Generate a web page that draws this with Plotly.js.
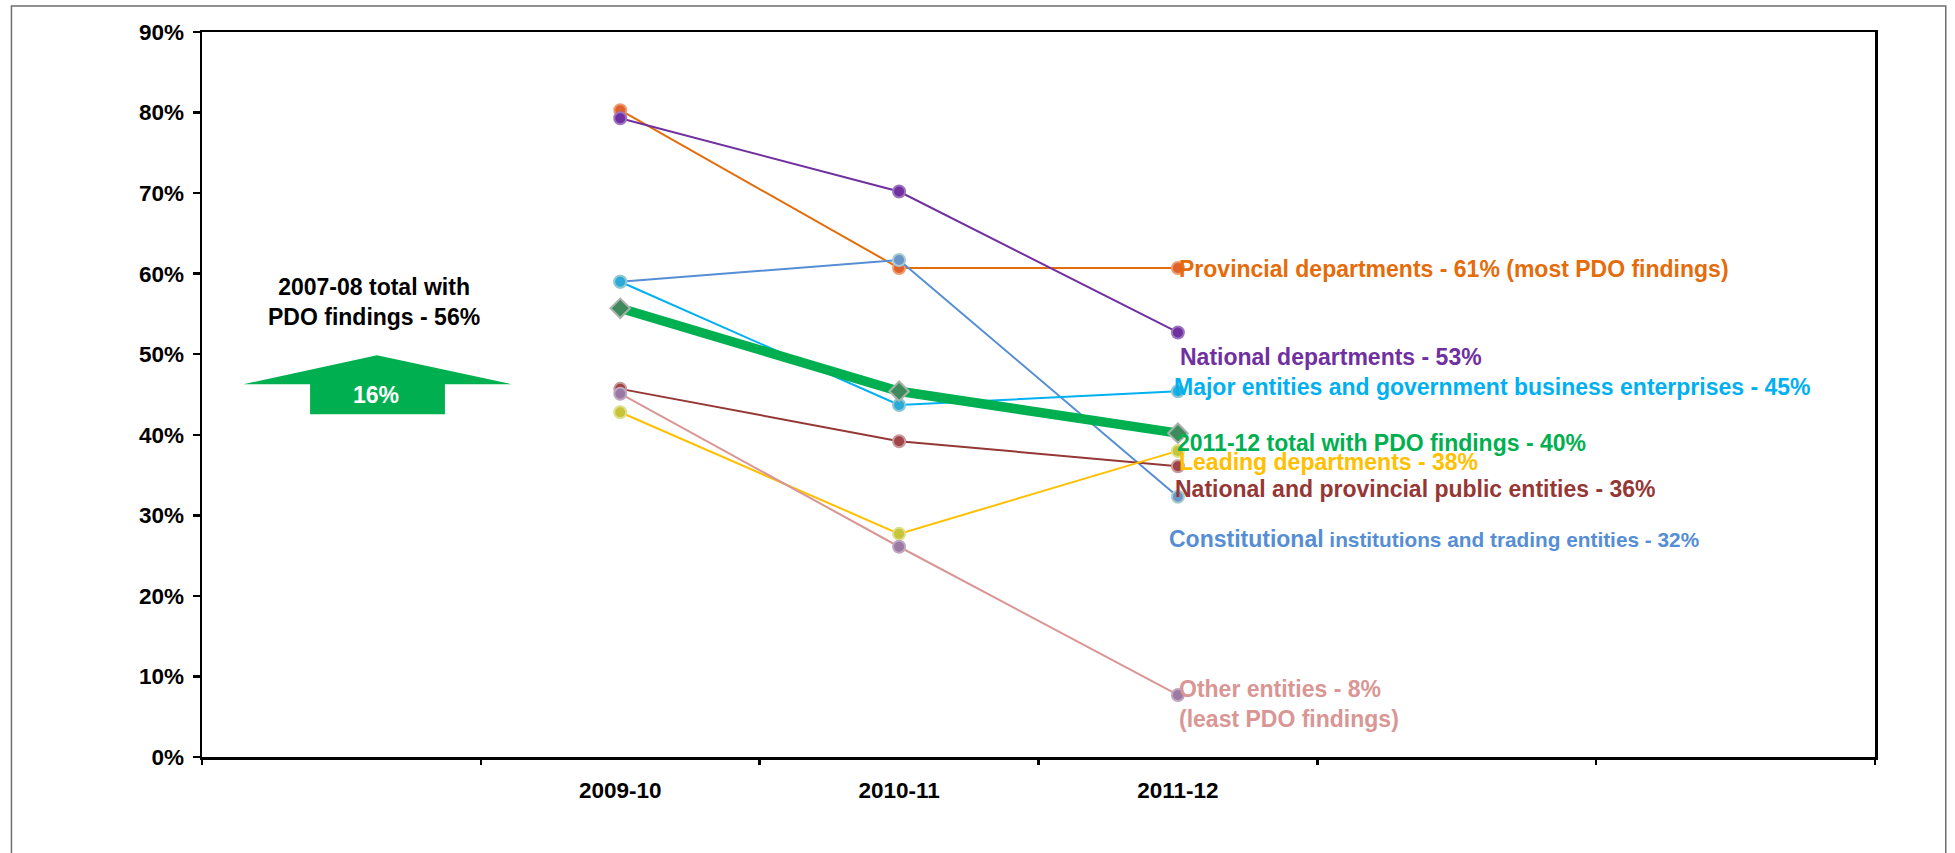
<!DOCTYPE html>
<html>
<head>
<meta charset="utf-8">
<script src="https://cdn.plot.ly/plotly-3.0.1.min.js"></script>
<style>
  html, body { margin: 0; padding: 0; background: #ffffff; }
  #chart { width: 1955px; height: 853px; }
</style>
</head>
<body>
<div id="chart"></div>
<script>
// ---- Data (percent of auditees with PDO findings) ----
const categories = ['2009-10', '2010-11', '2011-12'];
const provincialDepartments = [80.3, 60.7, 60.7];
const nationalDepartments = [79.3, 70.2, 52.7];
const constitutionalInstitutions = [59.0, 61.7, 32.3];
const majorEntities = [59.0, 43.7, 45.4];
const totalWithFindings = [55.7, 45.4, 40.2];
const publicEntities = [45.7, 39.2, 36.1];
const leadingDepartments = [42.8, 27.7, 38.0];
const otherEntities = [45.1, 26.1, 7.7];

const yTickValues = [0, 10, 20, 30, 40, 50, 60, 70, 80, 90];
const yTickLabels = ['0%', '10%', '20%', '30%', '40%', '50%', '60%', '70%', '80%', '90%'];

// ---- Styling ----
const FONT = '"Liberation Sans", Arial, sans-serif';

function series(y, lineColor, lineWidth, markerColor, markerLine, symbol, size) {
  return {
    x: categories, y: y, type: 'scatter', mode: 'lines+markers',
    line: { color: lineColor, width: lineWidth },
    marker: { color: markerColor, size: size || 12, symbol: symbol || 'circle',
              line: { color: markerLine, width: 2 } },
    showlegend: false, hoverinfo: 'skip', cliponaxis: false
  };
}

const traces = [
  series(provincialDepartments, '#E46C0A', 2, '#E0612C', '#EE9A70'),
  series(nationalDepartments, '#7030A0', 2, '#7030A0', '#9C73C0'),
  series(constitutionalInstitutions, '#558ED5', 2, '#6B96C8', '#A6CCCF'),
  series(majorEntities, '#00B0F0', 2, '#2BAAD8', '#8CC8D4'),
  series(publicEntities, '#953735', 2, '#A04448', '#C79A9C'),
  series(leadingDepartments, '#FFC000', 2, '#C8C43A', '#DDE08A'),
  series(otherEntities, '#D99694', 2, '#9A7AA2', '#BFA6C2'),
  series(totalWithFindings, '#00B050', 9.5, '#3E8A5C', '#A9B2AA', 'diamond', 15),
  // invisible helper on the boundary-tick axis
  { x: [0], y: [null], xaxis: 'x2', yaxis: 'y', type: 'scatter', mode: 'markers',
    showlegend: false, hoverinfo: 'skip', marker: { opacity: 0 } }
];

// tick positions on slot boundaries (6 slots: one empty before, two after)
const boundaryTicks = [];
for (let b = -1.5; b <= 4.5; b += 1) boundaryTicks.push(b);

function label(text, color, x, y, size) {
  return {
    xref: 'paper', yref: 'paper', x: x, y: y, xanchor: 'left', yanchor: 'middle',
    text: text, showarrow: false, align: 'left',
    font: { family: FONT, size: size || 23, color: color, weight: 'bold' }
  };
}

const annotations = [
  label('Provincial departments - 61% (most PDO findings)', '#E46C0A', 0.5825, 0.6737),
  label('National departments - 53%', '#7030A0', 0.5835, 0.5517),
  label('Major entities and government business enterprises - 45%', '#00B0F0', 0.5795, 0.5103),
  label('2011-12 total with PDO findings - 40%', '#00B050', 0.5815, 0.4337),
  label('Leading departments - 38%', '#FFC000', 0.5825, 0.4069),
  label('National and provincial public entities - 36%', '#953735', 0.5805, 0.3702),
  label('<span style="font-size:23px">Constitutional</span> institutions and trading entities - 32%', '#558ED5', 0.5770, 0.3012, 20.8),
  label('Other entities - 8%<br>(least PDO findings)', '#D99694', 0.5825, 0.0737),
  {
    xref: 'paper', yref: 'paper', x: 0.1030, y: 0.6279, xanchor: 'center', yanchor: 'middle',
    text: '2007-08 total with<br>PDO findings - 56%', showarrow: false, align: 'center',
    font: { family: FONT, size: 23, color: '#000000', weight: 'bold' }
  },
  {
    xref: 'paper', yref: 'paper', x: 0.1042, y: 0.4989, xanchor: 'center', yanchor: 'middle',
    text: '16%', showarrow: false,
    font: { family: FONT, size: 23, color: '#ffffff', weight: 'bold' }
  }
];

// block arrow (paper coordinates)
const arrowPath = 'M 0.0646 0.4727 L 0.0646 0.5142 L 0.0247 0.5142 L 0.1046 0.5543 ' +
                  'L 0.1852 0.5142 L 0.1452 0.5142 L 0.1452 0.4727 Z';

const shapes = [
  { type: 'path', xref: 'paper', yref: 'paper', path: arrowPath,
    fillcolor: '#00B050', line: { width: 0 }, layer: 'above' },
  // outer frame of the figure
  { type: 'rect', xref: 'paper', yref: 'paper',
    x0: -0.1139, x1: 1.0423, y0: -0.30, y1: 1.0359,
    line: { color: '#6E6E6E', width: 1.5 }, fillcolor: 'rgba(0,0,0,0)', layer: 'below' }
];

const layout = {
  width: 1955, height: 853,
  margin: { l: 201.5, r: 79.5, t: 31.7, b: 96.3, pad: 0 },
  paper_bgcolor: '#ffffff', plot_bgcolor: '#ffffff',
  font: { family: FONT, color: '#000000' },
  showlegend: false,
  xaxis: {
    type: 'category', categoryarray: categories, categoryorder: 'array',
    range: [-1.5, 4.5], fixedrange: true,
    showgrid: false, zeroline: false,
    showline: true, linecolor: '#000000', linewidth: 2.5, mirror: true,
    ticks: '', ticklabelstandoff: 11,
    tickfont: { family: FONT, size: 22.5, color: '#000000', weight: 'bold' }
  },
  xaxis2: {
    overlaying: 'x', anchor: 'y', side: 'bottom',
    range: [-1.5, 4.5], fixedrange: true,
    tickmode: 'array', tickvals: boundaryTicks, showticklabels: false,
    ticks: 'outside', ticklen: 7, tickwidth: 2.5, tickcolor: '#000000',
    showgrid: false, zeroline: false, showline: false
  },
  yaxis: {
    range: [0, 90], fixedrange: true,
    tickmode: 'array', tickvals: yTickValues, ticktext: yTickLabels,
    showgrid: false, zeroline: false,
    showline: true, linecolor: '#000000', linewidth: 2.5, mirror: true,
    ticks: 'outside', ticklen: 7, tickwidth: 2.5, tickcolor: '#000000',
    ticklabelstandoff: 4,
    tickfont: { family: FONT, size: 22.5, color: '#000000', weight: 'bold' }
  },
  annotations: annotations,
  shapes: shapes
};

Plotly.newPlot('chart', traces, layout, { displayModeBar: false, staticPlot: true });
</script>
</body>
</html>
